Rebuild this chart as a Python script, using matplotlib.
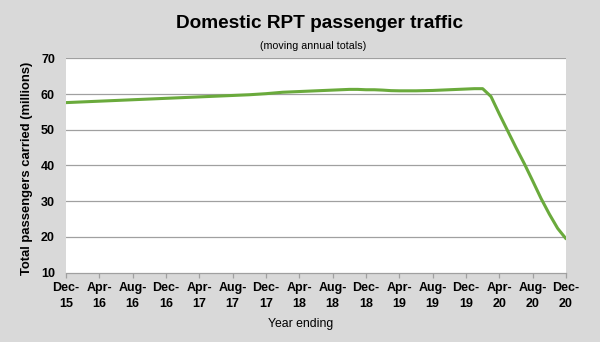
import matplotlib
matplotlib.use("Agg")
import matplotlib.pyplot as plt
import numpy as np

plt.rcParams['font.family'] = ['Liberation Sans', 'DejaVu Sans']

# Monthly moving annual totals, Dec-15 .. Dec-20 (millions of passengers)
months = ["Dec", "Jan", "Feb", "Mar", "Apr", "May", "Jun", "Jul", "Aug", "Sep", "Oct", "Nov"]
passengers = [
    57.6, 57.7, 57.8, 57.9, 58.0, 58.1, 58.2, 58.3, 58.4, 58.5, 58.6, 58.7,
    58.8, 58.9, 59.0, 59.1, 59.2, 59.3, 59.4, 59.5, 59.6, 59.7, 59.8, 59.95,
    60.1, 60.3, 60.5, 60.6, 60.7, 60.8, 60.9, 61.0, 61.1, 61.2, 61.3, 61.3,
    61.2, 61.2, 61.1, 60.95, 60.9, 60.9, 60.9, 60.95, 61.0, 61.1, 61.2, 61.3,
    61.4, 61.5, 61.5, 59.3, 54.4, 49.7, 45.0, 40.5, 35.7, 30.8, 26.4, 22.4,
    19.5,
]
# Period labels: month abbreviation plus two-digit year
periods = []
for i in range(len(passengers)):
    m = months[i % 12]
    yr = 15 + (i + 11) // 12
    periods.append(f"{m}-\n{yr}")

y_ticks = [10, 20, 30, 40, 50, 60, 70]

fig = plt.figure(figsize=(6.0, 3.42), dpi=100)
fig.patch.set_facecolor("#d9d9d9")
ax = fig.add_axes([66 / 600, 1 - 272.7 / 342, 500 / 600, (272.7 - 58.3) / 342])
ax.set_facecolor("white")

x = np.arange(len(passengers))
ax.plot(x, passengers, color="#6aaa3c", lw=2.2, solid_capstyle="round", zorder=3)

ax.set_xlim(0, len(passengers) - 1)
ax.set_ylim(10, 70)
ax.set_yticks(y_ticks)
ax.set_yticklabels([str(v) for v in y_ticks], fontsize=9, fontweight="bold")
tick_idx = list(range(0, len(passengers), 4))
ax.set_xticks(tick_idx)
ax.set_xticklabels([periods[i] for i in tick_idx], fontsize=9, fontweight="bold",
                   linespacing=1.45)

for v in y_ticks[1:]:
    ax.axhline(v, color="#a0a0a0", lw=0.9, zorder=1)

for s in ["left", "right", "top"]:
    ax.spines[s].set_visible(False)
ax.spines["bottom"].set_color("#a0a0a0")
ax.spines["bottom"].set_linewidth(0.9)

ax.tick_params(axis="y", length=0, pad=8)
ax.tick_params(axis="x", length=3.5, color="#a0a0a0", width=0.9, pad=3)

fig.text(320 / 600, 1 - 24 / 342, "Domestic RPT passenger traffic", ha="center",
         va="center", fontsize=13.7, fontweight="bold")
fig.text(313 / 600, 1 - 46 / 342, "(moving annual totals)", ha="center",
         va="center", fontsize=7.7)
fig.text(27 / 600, 1 - 168 / 342, "Total passengers carried (millions)", ha="center",
         va="center", rotation=90, fontsize=9.4, fontweight="bold")
fig.text(301 / 600, 1 - 324 / 342, "Year ending", ha="center", va="center",
         fontsize=8.8)

fig.savefig("out.png", dpi=100, facecolor=fig.get_facecolor())
